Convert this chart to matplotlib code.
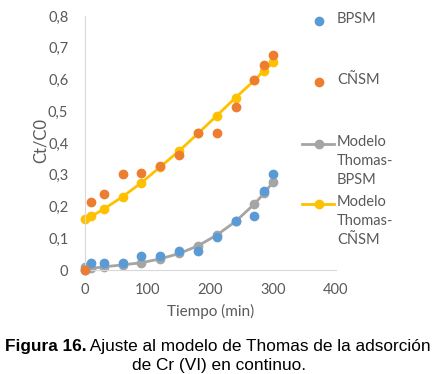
import matplotlib
matplotlib.use("Agg")
import matplotlib.pyplot as plt
from matplotlib.lines import Line2D

# data
tiempo = [0, 10, 30, 60, 90, 120, 150, 180, 210, 240, 270, 285, 300]
bpsm = [0.0, 0.023, 0.023, 0.023, 0.045, 0.045, 0.061, 0.061, 0.103, 0.153, 0.170, 0.249, 0.301]
cnsm = [0.0, 0.215, 0.238, 0.301, 0.305, 0.329, 0.361, 0.433, 0.433, 0.514, 0.597, 0.647, 0.677]
thomas_bpsm = [0.008, 0.005, 0.010, 0.016, 0.023, 0.035, 0.052, 0.076, 0.110, 0.153, 0.208, 0.241, 0.278]
thomas_cnsm = [0.160, 0.169, 0.192, 0.231, 0.275, 0.325, 0.375, 0.430, 0.486, 0.543, 0.597, 0.628, 0.654]

x_ticks = [0, 100, 200, 300, 400]
y_ticks = [0, 0.1, 0.2, 0.3, 0.4, 0.5, 0.6, 0.7, 0.8]
y_labels = ["0", "0,1", "0,2", "0,3", "0,4", "0,5", "0,6", "0,7", "0,8"]

labels = ["BPSM", "CÑSM", "Modelo\nThomas-\nBPSM", "Modelo\nThomas-\nCÑSM"]
BLUE, ORANGE, GRAY, YELLOW = "#5B9BD5", "#ED7D31", "#A5A5A5", "#FFC000"
TXT = "#595959"
FONT = "Lato"
MS = 6

fig = plt.figure(figsize=(4.34, 3.74), dpi=100)
ax = fig.add_axes([85 / 434, 1 - 270 / 374, (336 - 85) / 434, (270 - 16) / 374])

ax.plot(tiempo, thomas_bpsm, color=GRAY, lw=2, marker="o", ms=MS, zorder=2)
ax.plot(tiempo, thomas_cnsm, color=YELLOW, lw=2, marker="o", ms=MS, zorder=2)
ax.plot(tiempo, bpsm, ls="none", marker="o", ms=MS, color=BLUE, zorder=3)
ax.plot(tiempo, cnsm, ls="none", marker="o", ms=MS, color=ORANGE, zorder=3)

ax.set_xlim(0, 400)
ax.set_ylim(0, 0.8)
ax.set_xticks(x_ticks)
ax.set_yticks(y_ticks)
ax.set_yticklabels(y_labels)
ax.tick_params(length=0, colors=TXT, labelsize=10.5, pad=12)
ax.tick_params(axis="x", pad=9)
for lab in ax.get_xticklabels() + ax.get_yticklabels():
    lab.set_family(FONT)
for s in ["top", "right"]:
    ax.spines[s].set_visible(False)
ax.spines["left"].set_color("#D9D9D9")
ax.spines["bottom"].set_color("#D9D9D9")
for l in ax.lines:
    l.set_clip_on(False)

ax.set_xlabel("Tiempo (min)", color=TXT, fontsize=11, family=FONT, labelpad=5)
ax.set_ylabel("Ct/C0", color=TXT, fontsize=12, family=FONT)
ax.yaxis.set_label_coords(-0.143, 0.51)

# legend, laid out by hand like the Excel one
W, H = 434, 374
leg = [(BLUE, False, 21), (ORANGE, False, 82), (GRAY, True, 144), (YELLOW, True, 204)]
for (col, has_line, yp), lab in zip(leg, labels):
    fy = 1 - yp / H
    if has_line:
        fig.add_artist(Line2D([302 / W, 334 / W], [fy, fy], color=col, lw=2))
    fig.add_artist(Line2D([319 / W], [fy], color=col, marker="o", ms=MS, ls="none"))
    fig.text(337 / W, 1 - (yp - 9) / H, lab, color=TXT, fontsize=10.5, family=FONT,
             va="top", ha="left", linespacing=1.45)

# caption with bold prefix
cap_font = "Liberation Sans"
CAP = 12.4
fig.canvas.draw()
r = fig.canvas.get_renderer()
t1 = fig.text(0, 1 - 351 / H, "Figura 16.", fontsize=CAP, weight="bold",
              family=cap_font, va="baseline", ha="left")
t2 = fig.text(0, 1 - 351 / H, " Ajuste al modelo de Thomas de la adsorción",
              fontsize=CAP, family=cap_font, va="baseline", ha="left")
w1 = t1.get_window_extent(r).width
w2 = t2.get_window_extent(r).width
x0 = (W - w1 - w2) / 2 + 1
t1.set_x(x0 / W)
t2.set_x((x0 + w1) / W)
fig.text(0.5 + 2 / W, 1 - 370 / H, "de Cr (VI) en continuo.", fontsize=CAP,
         family=cap_font, va="baseline", ha="center")

fig.savefig("out.png", dpi=100)
